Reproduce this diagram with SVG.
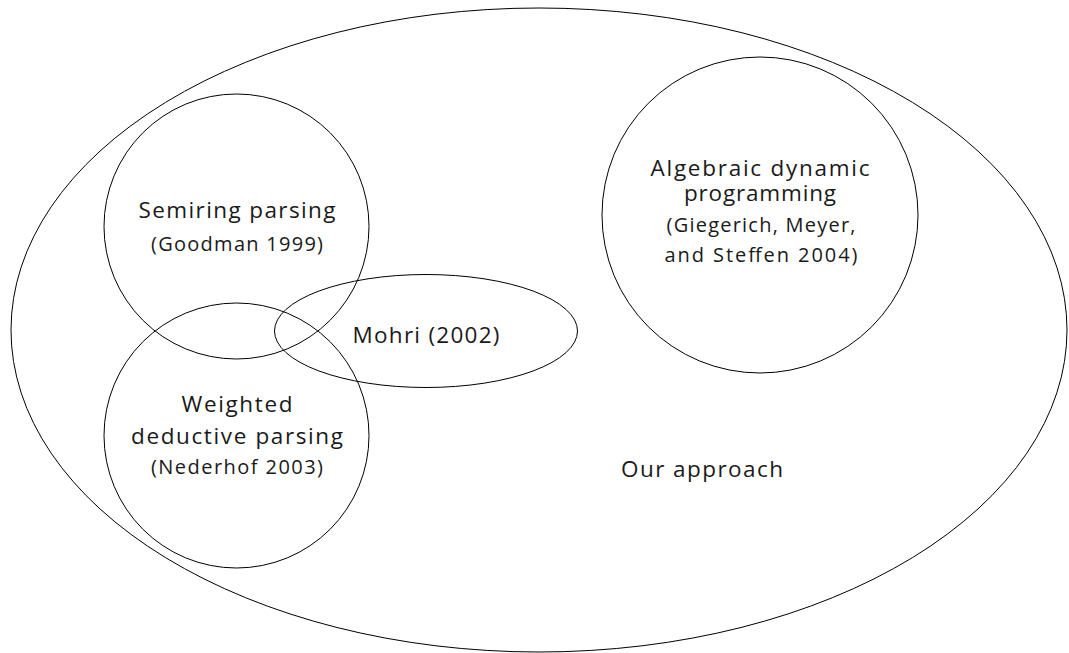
<svg xmlns="http://www.w3.org/2000/svg" width="1069" height="653" viewBox="0 0 1069 653">
<style>
.s{fill:none;stroke:#000;stroke-width:1}
text{font-family:"Open Sans","Noto Sans","Liberation Sans",sans-serif;fill:#1a1a1a;text-anchor:middle}
.m{font-size:22.5px}
.t{font-size:20px}
</style>
<rect width="1069" height="653" fill="#fff"/>
<g id="our-approach">
<ellipse class="s" cx="539" cy="330" rx="528" ry="322"/>
<text class="m" x="702" y="476.5" textLength="162" lengthAdjust="spacing">Our approach</text>
</g>
<g id="semiring">
<circle class="s" cx="236.5" cy="226.5" r="132.5"/>
<text class="m" x="237" y="218" textLength="197" lengthAdjust="spacing">Semiring parsing</text>
<text class="t" x="237" y="251" textLength="172" lengthAdjust="spacing">(Goodman 1999)</text>
</g>
<g id="weighted">
<circle class="s" cx="236.5" cy="435.5" r="132.5"/>
<text class="m" x="237" y="411.5" textLength="111" lengthAdjust="spacing">Weighted</text>
<text class="m" x="237" y="443.5" textLength="212" lengthAdjust="spacing">deductive parsing</text>
<text class="t" x="237" y="473.5" textLength="172" lengthAdjust="spacing">(Nederhof 2003)</text>
</g>
<g id="mohri">
<ellipse class="s" cx="426" cy="331" rx="151.5" ry="56.5"/>
<text class="m" x="426" y="343" textLength="147" lengthAdjust="spacing">Mohri (2002)</text>
</g>
<g id="algebraic">
<circle class="s" cx="760" cy="215" r="158"/>
<text class="m" x="760" y="176" textLength="219" lengthAdjust="spacing">Algebraic dynamic</text>
<text class="m" x="760" y="201" textLength="152" lengthAdjust="spacing">programming</text>
<text class="t" x="761" y="231.5" textLength="189" lengthAdjust="spacing">(Giegerich, Meyer,</text>
<text class="t" x="761" y="261.5" textLength="193" lengthAdjust="spacing">and Steffen 2004)</text>
</g>
<g id="connectors"/>
</svg>
